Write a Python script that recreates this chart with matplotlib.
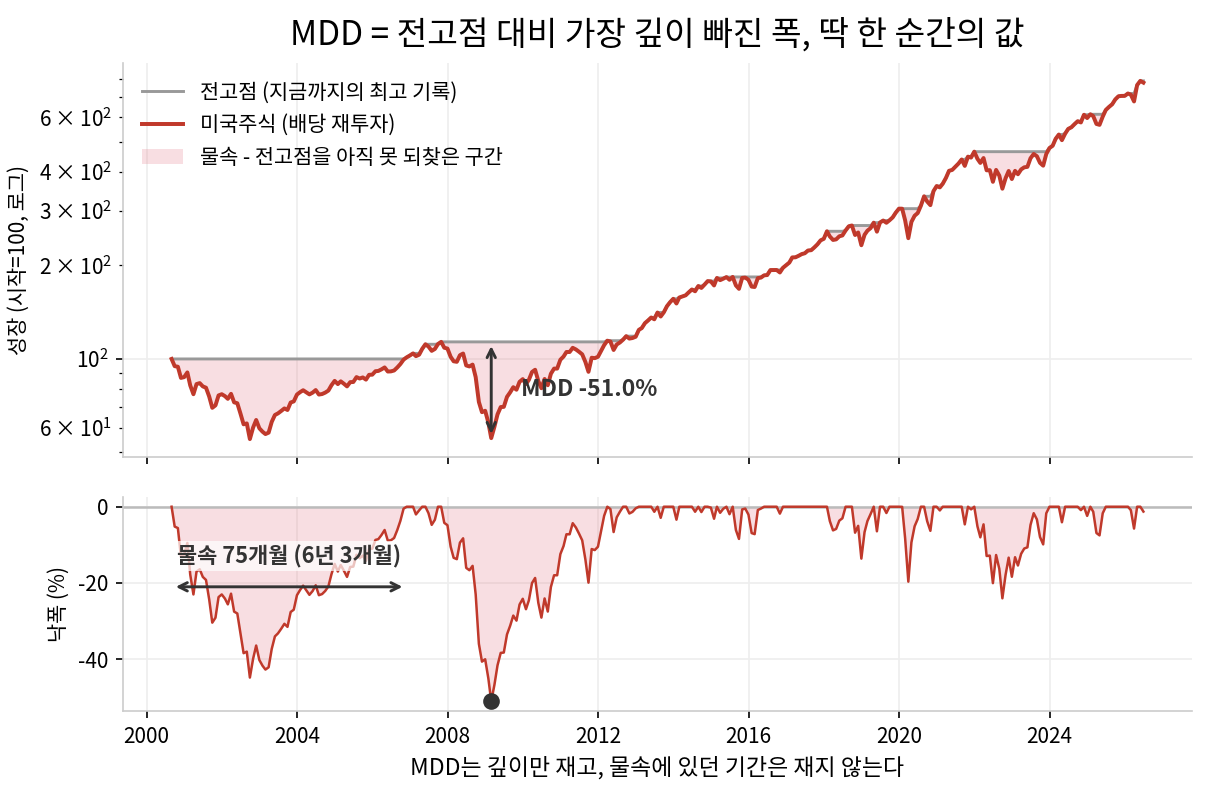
import numpy as np
import pandas as pd
import matplotlib
matplotlib.use('Agg')
import matplotlib.pyplot as plt
from matplotlib.patches import Patch
from matplotlib.lines import Line2D
from matplotlib.ticker import LogFormatterSciNotation

plt.rcParams['font.family'] = ['Noto Sans CJK KR', 'DejaVu Sans']
plt.rcParams['axes.unicode_minus'] = False
plt.rcParams['font.size'] = 10

# 미국주식 배당 재투자 지수, 월말 값 (2000-08 = 100)
v2000 = [100.0, 94.8, 94.4, 86.9, 87.4]
v2001 = [90.5, 82.2, 77.0, 83.0, 83.6, 81.6, 80.8, 75.7, 69.6, 70.9, 76.3, 77.0]
v2002 = [75.9, 74.4, 77.2, 72.5, 72.0, 66.8, 61.6, 62.0, 55.2, 60.1, 63.6, 59.8]
v2003 = [58.3, 57.3, 57.9, 62.7, 66.0, 66.8, 68.0, 69.3, 68.5, 72.4, 73.0, 76.8]
v2004 = [78.2, 79.3, 78.1, 76.9, 77.9, 79.4, 76.8, 77.1, 77.9, 79.1, 82.3, 85.0]
v2005 = [83.0, 84.7, 83.2, 81.6, 84.2, 84.3, 87.4, 86.5, 87.2, 85.8, 88.9, 89.0]
v2006 = [91.3, 91.5, 92.6, 93.9, 91.1, 91.2, 91.8, 93.9, 96.3, 99.5, 101.2, 102.6]
v2007 = [104.2, 102.1, 103.2, 107.8, 111.5, 109.6, 106.2, 107.7, 111.7, 113.5, 108.7, 108.0]
v2008 = [101.6, 98.3, 97.9, 102.8, 104.1, 95.3, 94.6, 95.9, 87.4, 72.7, 67.4, 68.1]
v2009 = [62.4, 55.6, 60.5, 66.3, 70.0, 70.1, 75.5, 78.1, 81.1, 79.6, 84.4, 86.1]
v2010 = [83.0, 85.6, 90.8, 92.3, 84.9, 80.5, 86.2, 82.3, 89.6, 93.1, 93.1, 99.4]
v2011 = [101.8, 105.3, 105.3, 108.6, 107.3, 105.5, 103.5, 97.8, 90.9, 100.9, 100.6, 101.6]
v2012 = [106.3, 110.8, 114.5, 113.8, 106.9, 111.3, 113.0, 115.4, 118.4, 116.3, 116.8, 117.9]
v2013 = [124.1, 125.7, 130.4, 133.0, 136.0, 134.2, 141.1, 137.0, 141.3, 147.9, 152.3, 156.2]
v2014 = [150.9, 157.7, 159.0, 160.3, 164.0, 167.4, 165.2, 171.7, 169.3, 173.6, 178.1, 177.7]
v2015 = [172.5, 182.3, 179.4, 181.3, 183.5, 179.9, 183.7, 172.5, 168.2, 182.4, 182.8, 179.9]
v2016 = [171.0, 170.5, 182.1, 182.8, 185.9, 186.3, 193.3, 193.3, 193.4, 189.9, 196.6, 200.5]
v2017 = [204.4, 212.3, 212.5, 214.8, 217.6, 219.0, 223.5, 224.0, 228.6, 234.0, 240.9, 243.7]
v2018 = [257.7, 248.0, 241.7, 242.7, 248.3, 249.9, 259.3, 267.5, 269.0, 250.7, 255.5, 232.4]
v2019 = [251.1, 258.9, 263.9, 274.7, 257.0, 275.1, 279.1, 274.5, 279.6, 285.7, 295.9, 304.8]
v2020 = [304.7, 279.5, 244.9, 276.3, 289.2, 295.0, 311.7, 334.0, 321.3, 312.9, 347.0, 360.4]
v2021 = [356.9, 366.7, 382.8, 403.5, 406.3, 415.9, 425.9, 438.9, 418.6, 448.2, 445.1, 465.1]
v2022 = [441.1, 427.8, 443.6, 405.0, 405.5, 371.9, 406.2, 389.4, 353.4, 382.0, 403.0, 379.7]
v2023 = [403.5, 393.4, 407.7, 414.1, 415.6, 442.9, 457.2, 449.6, 428.2, 419.2, 457.1, 477.8]
v2024 = [486.0, 511.6, 528.1, 506.6, 531.5, 550.6, 557.4, 570.7, 582.9, 577.7, 611.5, 596.8]
v2025 = [613.6, 605.5, 571.3, 567.5, 603.1, 633.7, 648.1, 661.1, 685.2, 701.5, 703.2, 703.5]
v2026 = [716.0, 709.6, 675.0, 762.0, 786.0, 776.0]

values = np.array(v2000 + v2001 + v2002 + v2003 + v2004 + v2005 + v2006 + v2007
                  + v2008 + v2009 + v2010 + v2011 + v2012 + v2013 + v2014 + v2015
                  + v2016 + v2017 + v2018 + v2019 + v2020 + v2021 + v2022 + v2023
                  + v2024 + v2025 + v2026)
dates = pd.date_range('2000-08-31', periods=len(values), freq='ME')

peak = np.maximum.accumulate(values)
dd = (values / peak - 1) * 100

# MDD 지점
i_tr = int(np.argmin(dd))
i_pk = int(np.argmax(values[:i_tr + 1]))
mdd = dd[i_tr]

# 첫 물속 구간 (시작 고점 -> 회복)
i_rec = int(np.argmax(values[1:] >= values[0])) + 1
n_months = i_rec
uw_label = f'물속 {n_months}개월 ({n_months // 12}년 {n_months % 12}개월)'

red = '#c0392b'
pink = '#e57f8c'
dark = '#333333'

fig = plt.figure(figsize=(1207 / 150, 793 / 150), dpi=150)
left, width = 123 / 1207, (1192 - 123) / 1207
ax1 = fig.add_axes([left, 1 - 457 / 793, width, (457 - 63) / 793])
ax2 = fig.add_axes([left, 1 - 711 / 793, width, (711 - 497) / 793], sharex=ax1)

for ax in (ax1, ax2):
    ax.grid(True, color='#eeeeee', lw=0.8)
    ax.set_axisbelow(True)
    for s in ('top', 'right'):
        ax.spines[s].set_visible(False)
    for s in ('left', 'bottom'):
        ax.spines[s].set_color('#cccccc')

# 위: 성장 곡선
ax1.fill_between(dates, values, peak, color=pink, alpha=0.25, lw=0)
ax1.plot(dates, peak, color='#999999', lw=1.4)
ax1.plot(dates, values, color=red, lw=1.9)
ax1.set_yscale('log')
ax1.yaxis.set_minor_formatter(LogFormatterSciNotation(labelOnlyBase=False, minor_thresholds=(2, 0.4)))
ax1.set_ylabel('성장 (시작=100, 로그)')
ax1.tick_params(labelbottom=False)

ax1.annotate('', xy=(dates[i_tr], values[i_tr]), xytext=(dates[i_tr], values[i_pk]),
             arrowprops=dict(arrowstyle='<->', color=dark, lw=1.4))
ax1.text(dates[i_tr] + pd.Timedelta(days=290), np.sqrt(values[i_pk] * values[i_tr]),
         f'MDD {mdd:.1f}%', fontsize=11, fontweight='bold', color=dark,
         ha='left', va='center')

handles = [Line2D([], [], color='#999999', lw=1.4),
           Line2D([], [], color=red, lw=1.9),
           Patch(facecolor=pink, alpha=0.25, edgecolor='none')]
labels = ['전고점 (지금까지의 최고 기록)', '미국주식 (배당 재투자)', '물속 - 전고점을 아직 못 되찾은 구간']
ax1.legend(handles, labels, loc='upper left', frameon=False, fontsize=10)

ax1.set_title('MDD = 전고점 대비 가장 깊이 빠진 폭, 딱 한 순간의 값', fontsize=16, pad=9)

# 아래: 낙폭
ax2.fill_between(dates, dd, 0, color=pink, alpha=0.25, lw=0)
ax2.axhline(0, color='#bbbbbb', lw=1.2)
ax2.plot(dates, dd, color=red, lw=1.2)
ax2.plot(dates[i_tr], mdd, 'o', color=dark, ms=7, zorder=5)
ax2.set_yticks([0, -20, -40])
ax2.set_ylabel('낙폭 (%)')
ax2.set_xlabel('MDD는 깊이만 재고, 물속에 있던 기간은 재지 않는다', fontsize=11)

ax2.annotate('', xy=(dates[i_rec], -21), xytext=(dates[0], -21),
             arrowprops=dict(arrowstyle='<->', color=dark, lw=1.4))
mid = dates[0] + (dates[i_rec] - dates[0]) / 2
ax2.text(mid, -13, uw_label, fontsize=10.5, fontweight='bold', color=dark,
         ha='center', va='center',
         bbox=dict(boxstyle='square,pad=0.15', facecolor='white', edgecolor='none', alpha=0.7))

fig.savefig('out.png', dpi=150)
